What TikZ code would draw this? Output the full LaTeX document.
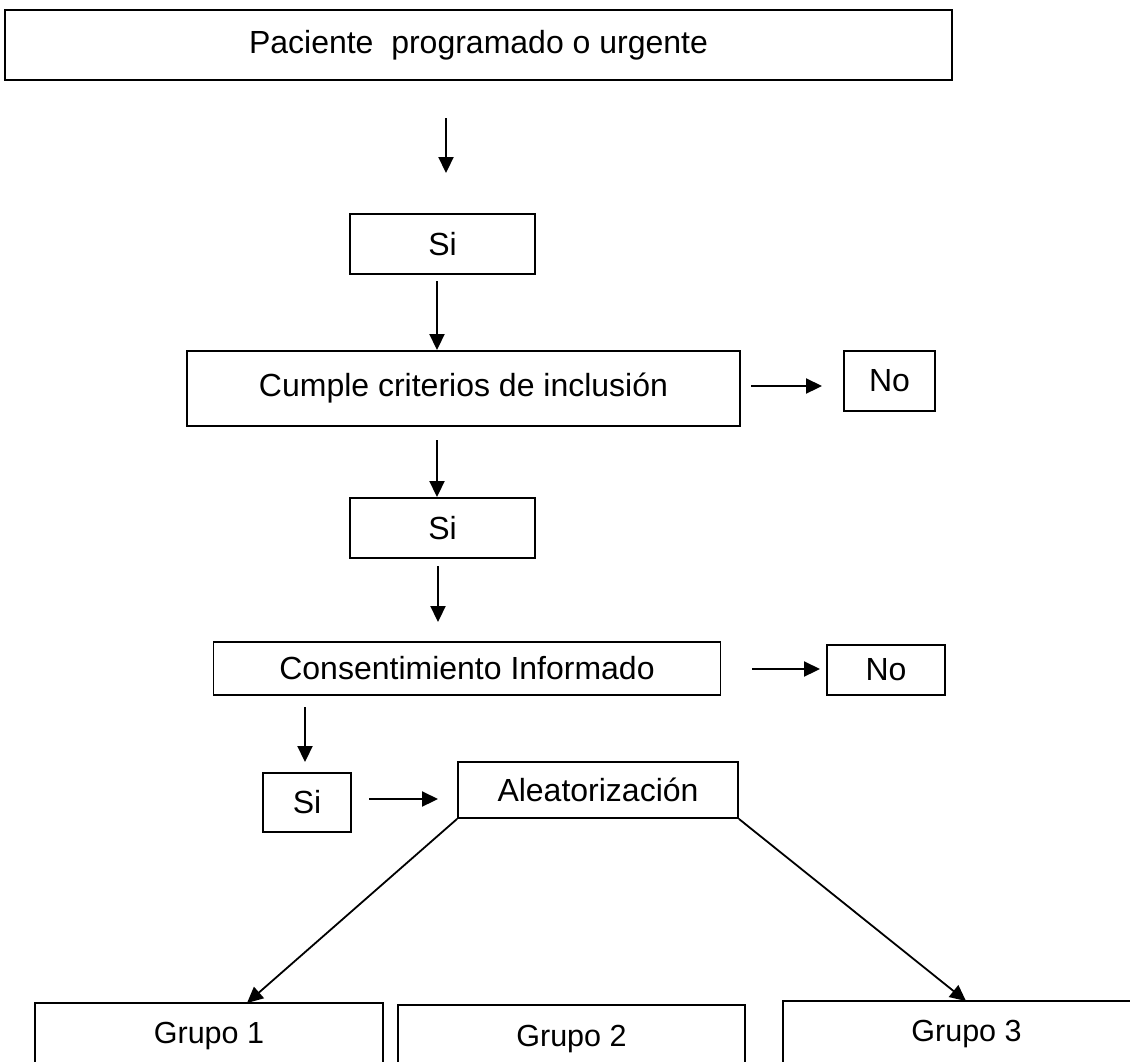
\documentclass[tikz,border=0pt]{standalone}
\usepackage{fontspec}
\setmainfont{Liberation Sans}
\usetikzlibrary{arrows.meta}
\begin{document}
\begin{tikzpicture}[x=1pt,y=-1pt,
  box/.style={draw,line width=1.8pt,inner sep=0pt,font=\fontsize{32}{38}\selectfont},
  gbox/.style={box,font=\fontsize{30.5}{36}\selectfont},
  arr/.style={line width=2.2pt,-{Triangle[length=16pt,width=15pt]}}]
\useasboundingbox (0,0) rectangle (1130,1061);
\clip (0,0) rectangle (1130,1061);
% boxes
\node[box,minimum width=947pt,minimum height=70pt] (top) at (478.5,45) {Paciente\ \ programado o urgente};
\node[box,minimum width=185pt,minimum height=60pt] (si1) at (442.5,244) {Si};
\node[box,minimum width=553pt,minimum height=75pt] (cumple) at (463.5,388.5) {Cumple criterios de inclusión};
\node[box,minimum width=91pt,minimum height=60pt] (no1) at (889.5,381) {No};
\node[box,minimum width=185pt,minimum height=60pt] (si2) at (442.5,528) {Si};
\node[box,minimum width=507pt,minimum height=53pt] (cons) at (467,668.5) {Consentimiento Informado};
\node[box,minimum width=118pt,minimum height=50pt] (no2) at (886,670) {No};
\node[box,minimum width=88pt,minimum height=59pt] (si3) at (307,802.5) {Si};
\node[box,minimum width=280pt,minimum height=56pt] (alea) at (598,790) {Aleatorización};
\node[gbox,minimum width=348pt,minimum height=66pt] (g1) at (209,1036) {Grupo 1};
\node[gbox,minimum width=347pt,minimum height=68pt] (g2) at (571.5,1039) {Grupo 2};
\node[gbox,minimum width=367pt,minimum height=66pt] (g3) at (966.5,1034) {Grupo 3};
% arrow end points
\coordinate (a1s) at (446,118); \coordinate (a1e) at (446,173);
\coordinate (a2s) at (437,281); \coordinate (a2e) at (437,350);
\coordinate (a3s) at (437,440); \coordinate (a3e) at (437,497);
\coordinate (a4s) at (438,566); \coordinate (a4e) at (438,622);
\coordinate (n1s) at (751,386); \coordinate (n1e) at (822,386);
\coordinate (n2s) at (752,669); \coordinate (n2e) at (820,669);
\coordinate (a5s) at (305,707); \coordinate (a5e) at (305,762);
\coordinate (s3s) at (369,799); \coordinate (s3e) at (438,799);
\coordinate (d1e) at (247,1003);
\coordinate (d2e) at (966,1001);
% connectors
\draw[arr] (a1s) -- (a1e);
\draw[arr] (a2s) -- (a2e);
\draw[arr] (a3s) -- (a3e);
\draw[arr] (a4s) -- (a4e);
\draw[arr] (n1s) -- (n1e);
\draw[arr] (n2s) -- (n2e);
\draw[arr] (a5s) -- (a5e);
\draw[arr] (s3s) -- (s3e);
\draw[arr,line width=1.8pt] (alea.south west) -- (d1e);
\draw[arr,line width=1.8pt] (alea.south east) -- (d2e);
\end{tikzpicture}
\end{document}
